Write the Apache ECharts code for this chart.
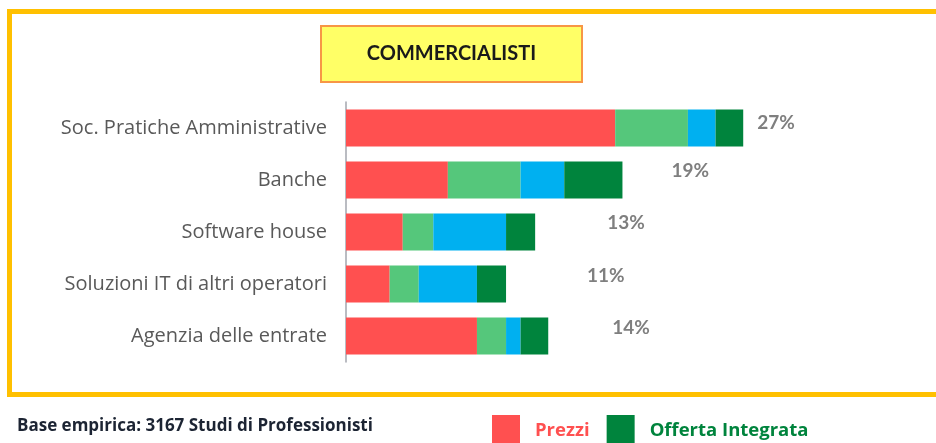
<!DOCTYPE html>
<html>
<head>
<meta charset="utf-8">
<script src="https://cdn.jsdelivr.net/npm/echarts@6/dist/echarts.min.js"></script>
<style>
  html, body { margin: 0; padding: 0; background: #fff; }
  #chart { width: 936px; height: 443px; }
</style>
</head>
<body>
<div id="chart"></div>
<script>
// dati (quote in %)
const categories = [
    'Soc. Pratiche Amministrative',
    'Banche',
    'Software house',
    'Soluzioni IT di altri operatori',
    'Agenzia delle entrate'
];
const prezzi = [18.5, 7, 3.9, 3, 9];
const serie2 = [5, 5, 2.1, 2, 2];
const serie3 = [1.9, 3, 5, 4, 1];
const offertaIntegrata = [1.9, 4, 2, 2, 1.9];
const totali = [27, 19, 13, 11, 14];

// posizione delle etichette percentuali (come nel grafico originale)
const labelOffsets = [[14, -5], [49, -9], [72, -9], [81, -8], [64, -8]];

const chart = echarts.init(document.getElementById('chart'));

const barBase = {
    type: 'bar',
    stack: 'tot',
    barWidth: 37
};

const option = {
    backgroundColor: '#ffffff',
    animation: false,
    textStyle: { fontFamily: 'Open Sans' },
    grid: { left: 346, top: 102, width: 582, height: 260 },
    xAxis: {
        type: 'value',
        min: 0,
        max: 40,
        show: false
    },
    yAxis: {
        type: 'category',
        data: categories,
        inverse: true,
        axisTick: { show: false },
        axisLine: { lineStyle: { color: '#a3a6ae', width: 1.5 } },
        axisLabel: { color: '#595959', fontSize: 20, margin: 19, fontFamily: 'Open Sans' }
    },
    legend: {
        left: 492,
        top: 415,
        padding: 0,
        itemWidth: 28,
        itemHeight: 32,
        itemGap: 17,
        icon: 'rect',
        textStyle: { fontSize: 18.5, fontWeight: 'bold', fontFamily: 'Open Sans', padding: [0, 0, 4, 10] },
        data: [
            { name: 'Prezzi', textStyle: { color: '#ff5050' } },
            { name: 'Offerta Integrata', textStyle: { color: '#00843d' } }
        ]
    },
    graphic: [
        {
            type: 'rect',
            shape: { x: 9.5, y: 11.5, width: 940, height: 383 },
            style: { fill: 'none', stroke: '#ffc000', lineWidth: 5 },
            z: 0
        },
        {
            type: 'rect',
            shape: { x: 321, y: 26, width: 261, height: 56 },
            style: { fill: '#ffff66', stroke: '#f79646', lineWidth: 2 }
        },
        {
            type: 'text',
            x: 451.5,
            y: 54,
            style: {
                text: 'COMMERCIALISTI',
                fill: '#1a1a1a',
                font: 'bold 20px Lato',
                textAlign: 'center',
                textVerticalAlign: 'middle'
            }
        },
        {
            type: 'text',
            x: 17,
            y: 426,
            style: {
                text: 'Base empirica: 3167 Studi di Professionisti',
                fill: '#1c2433',
                font: 'bold 17px "Open Sans"',
                textVerticalAlign: 'middle'
            }
        }
    ],
    series: [
        Object.assign({}, barBase, { name: 'Prezzi', data: prezzi, itemStyle: { color: '#ff5050' } }),
        Object.assign({}, barBase, { name: 'Serie 2', data: serie2, itemStyle: { color: '#55c77b' } }),
        Object.assign({}, barBase, { name: 'Serie 3', data: serie3, itemStyle: { color: '#00b0f0' } }),
        Object.assign({}, barBase, {
            name: 'Offerta Integrata',
            itemStyle: { color: '#00843d' },
            data: offertaIntegrata.map((v, i) => ({
                value: v,
                label: { offset: labelOffsets[i] }
            })),
            label: {
                show: true,
                position: 'right',
                distance: 0,
                color: '#7f7f7f',
                fontSize: 19,
                fontWeight: 'bold',
                fontFamily: 'Lato',
                formatter: p => totali[p.dataIndex] + '%'
            }
        })
    ]
};

chart.setOption(option);
window.addEventListener('resize', () => chart.resize());
</script>
</body>
</html>
